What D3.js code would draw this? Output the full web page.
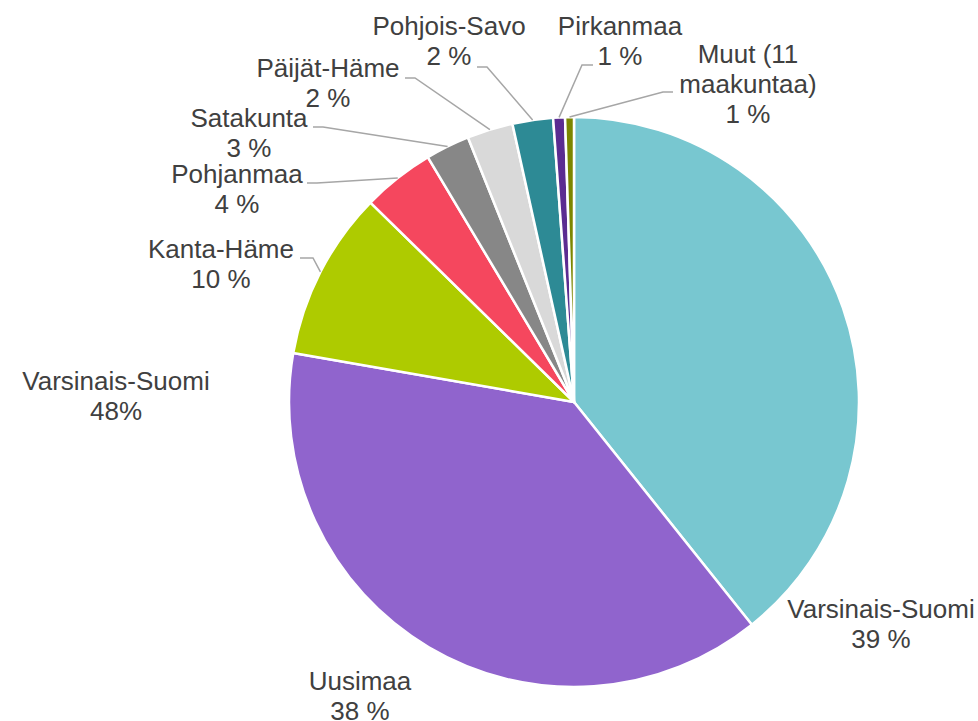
<!DOCTYPE html>
<html>
<head>
<meta charset="utf-8">
<script src="https://cdn.jsdelivr.net/npm/d3@7"></script>
<style>
  html, body { margin: 0; padding: 0; background: #fff; }
  svg { display: block; }
</style>
</head>
<body>
<div id="chart"></div>
<script>
// slices, clockwise from 12 o'clock
const categories = ['Varsinais-Suomi', 'Uusimaa', 'Kanta-Häme', 'Pohjanmaa', 'Satakunta',
  'Päijät-Häme', 'Pohjois-Savo', 'Pirkanmaa', 'Muut (11 maakuntaa)']
const values = [39.3, 38.5, 9.6, 4.1, 2.5, 2.6, 2.3, 0.67, 0.5]
const pctLabels = ['39 %', '38 %', '10 %', '4 %', '3 %', '2 %', '2 %', '1 %', '1 %']
const colors = ['#78C7D0', '#9064CD', '#AECB00', '#F5475E', '#878787',
  '#D9D9D9', '#2D8A95', '#5B2C91', '#7B8600']

// the odd extra text box on the left of the original
const extraLabel = ['Varsinais-Suomi', '48%']

// label placement: text centre x, first baseline y, leader [startX, elbowX, y] or null
const labelLayout = [
  { x: 881, y: 618, leader: null },
  { x: 360, y: 690, leader: null },
  { x: 221, y: 258, leader: [300, 313, 258] },
  { x: 237, y: 183, leader: [307, 317, 183] },
  { x: 249, y: 127, leader: [313, 323, 127] },
  { x: 328, y: 77, leader: [405, 415, 78] },
  { x: 449, y: 35, leader: [477, 487, 67] },
  { x: 620, y: 35, leader: [593, 582, 65] },
  { x: 748, y: 63, leader: [673, 663, 92] }
]

const width = 978
const height = 721
const cx = 574
const cy = 402
const radius = 285
const lineH = 30

const svg = d3.select('#chart')
  .append('svg')
  .attr('width', width)
  .attr('height', height)

const g = svg.append('g')
  .attr('transform', 'translate(' + cx + ',' + cy + ')')

const pie = d3.pie().sort(null).value(function (d) { return d })
const arcs = pie(values)
const arc = d3.arc().innerRadius(0).outerRadius(radius)

g.selectAll('path')
  .data(arcs)
  .enter()
  .append('path')
  .attr('d', arc)
  .style('fill', function (d, i) { return colors[i] })
  .style('stroke', '#fff')
  .style('stroke-width', 2.5)
  .style('stroke-linejoin', 'round')

// leader lines end on the rim at the slice's middle angle
const rim = d3.arc().innerRadius(radius).outerRadius(radius)
const lines = svg.append('g')
arcs.forEach(function (d, i) {
  const lay = labelLayout[i]
  if (!lay.leader) return
  const p = rim.centroid(d)
  const pts = [[lay.leader[0], lay.leader[2]], [lay.leader[1], lay.leader[2]], [cx + p[0], cy + p[1]]]
  lines.append('path')
    .attr('d', d3.line()(pts))
    .style('fill', 'none')
    .style('stroke', '#A6A6A6')
    .style('stroke-width', 1.5)
})

const font = '"Liberation Sans", Arial, sans-serif'
const fontSize = 26

// simple greedy word wrap
const measure = svg.append('text').style('font-family', font).style('font-size', fontSize + 'px')
function wrap (txt, maxW) {
  const words = txt.split(' ')
  const out = []
  let cur = ''
  words.forEach(function (w) {
    const test = cur ? cur + ' ' + w : w
    measure.text(test)
    if (cur && measure.node().getComputedTextLength() > maxW) {
      out.push(cur)
      cur = w
    } else {
      cur = test
    }
  })
  out.push(cur)
  return out
}

const labels = svg.append('g')
function addLabel (linesTxt, x, y) {
  const t = labels.append('text')
    .attr('text-anchor', 'middle')
    .style('font-family', font)
    .style('font-size', fontSize + 'px')
    .style('fill', '#404040')
  linesTxt.forEach(function (s, k) {
    t.append('tspan').attr('x', x).attr('y', y + k * lineH).text(s)
  })
}

categories.forEach(function (c, i) {
  const lay = labelLayout[i]
  addLabel(wrap(c, 140).concat([pctLabels[i]]), lay.x, lay.y)
})
addLabel(extraLabel, 116, 390)
measure.remove()
</script>
</body>
</html>
